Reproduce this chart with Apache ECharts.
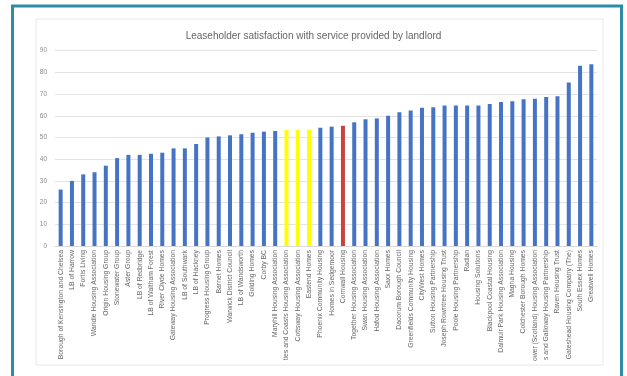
<!DOCTYPE html>
<html>
<head>
<meta charset="utf-8">
<title>Leaseholder satisfaction</title>
<script src="https://cdn.jsdelivr.net/npm/echarts@6/dist/echarts.min.js"></script>
<style>
  html, body { margin: 0; padding: 0; background: #fff; }
  #chart { width: 627px; height: 376px; }
</style>
</head>
<body>
<div id="chart"></div>
<script>
// landlords, lowest to highest
var categories = [
  'Borough of Kensington and Chelsea', 'LB of Harrow', 'Fortis Living', 'Wandle Housing Association',
  'Origin Housing Group', 'Stonewater Group', 'Aster Group', 'LB of Redbridge', 'LB of Waltham Forest',
  'River Clyde Homes', 'Gateway Housing Association', 'LB of Southwark', 'LB of Hackney',
  'Progress Housing Group', 'Barnet Homes', 'Warwick District Council', 'LB of Wandsworth',
  'Golding Homes', 'Corby BC', 'Maryhill Housing Association', 'ties and Coasts Housing Association',
  'Cottsway Housing Association', 'Eastend Homes', 'Phoenix Community Housing', 'Homes in Sedgemoor',
  'Cornwall Housing', 'Together Housing Association', 'Swan Housing Association', 'Hafod Housing Association',
  'Saxx Homes', 'Dacorum Borough Council', 'Greenfields Community Housing', 'CityWest Homes',
  'Sutton Housing Partnership', 'Joseph Rowntree Housing Trust', 'Poole Housing Partnership', 'Radian',
  'Housing Solutions', 'Blackpool Coastal Housing', 'Dalmuir Park Housing Association', 'Magna Housing',
  'Colchester Borough Homes', 'ower (Scotland) Housing Association', 's and Galloway Housing Partnership',
  'Raven Housing Trust', 'Gateshead Housing Company (The)', 'South Essex Homes', 'Greatwell Homes'
];

var satisfaction = [
  26, 30, 33, 34, 37, 40.5, 42, 42, 42.5, 43, 45, 45, 47, 50, 50.5, 51,
  51.5, 52.2, 52.7, 53, 53.5, 53.5, 53.5, 54.5, 55, 55.4, 57, 58.4, 58.8, 60, 61.6, 62.5,
  63.7, 63.9, 64.7, 64.7, 64.7, 64.7, 65.4, 66.4, 66.7, 67.6, 67.9, 68.7, 69, 75.4, 83.1, 83.7
];

var yTicks = [0, 10, 20, 30, 40, 50, 60, 70, 80, 90];

// bars picked out in another colour
var yellowBars = ['ties and Coasts Housing Association', 'Cottsway Housing Association', 'Eastend Homes'];
var redBars = ['Cornwall Housing'];

var barData = categories.map(function (name, i) {
  var color = '#4674C4';
  if (yellowBars.indexOf(name) >= 0) color = '#FFFF00';
  if (redBars.indexOf(name) >= 0) color = '#C8423E';
  return { value: satisfaction[i], itemStyle: { color: color } };
});

var myChart = echarts.init(document.getElementById('chart'));

var option = {
  animation: false,
  textStyle: { fontFamily: 'Liberation Sans, sans-serif' },
  title: {
    text: 'Leaseholder satisfaction with service provided by landlord',
    left: 'center',
    top: 26,
    textStyle: { fontSize: 10, fontWeight: 'normal', color: '#666666' }
  },
  graphic: [
    {
      type: 'rect',
      shape: { x: 36, y: 19, width: 567, height: 346 },
      style: { fill: 'none', stroke: '#e8e8e8', lineWidth: 1 },
      silent: true
    },
    {
      type: 'rect',
      shape: { x: 12.5, y: 6, width: 609, height: 390 },
      style: { fill: 'none', stroke: '#2E8CA6', lineWidth: 3 },
      silent: true
    }
  ],
  grid: { left: 55, right: 30, top: 50.7, bottom: 130 },
  xAxis: {
    type: 'category',
    data: categories,
    axisTick: { show: false },
    axisLine: { lineStyle: { color: '#d9d9d9' } },
    axisLabel: {
      interval: 0,
      rotate: 90,
      fontSize: 6.8,
      color: '#666666',
      margin: 4
    }
  },
  yAxis: {
    type: 'value',
    min: yTicks[0],
    max: yTicks[yTicks.length - 1],
    interval: 10,
    axisLine: { show: false },
    axisTick: { show: false },
    splitLine: { lineStyle: { color: '#e3e3e3' } },
    axisLabel: { fontSize: 6.5, color: '#8c8c8c', margin: 8 }
  },
  series: [
    {
      type: 'bar',
      data: barData,
      barWidth: 4
    }
  ]
};

myChart.setOption(option);
</script>
</body>
</html>
